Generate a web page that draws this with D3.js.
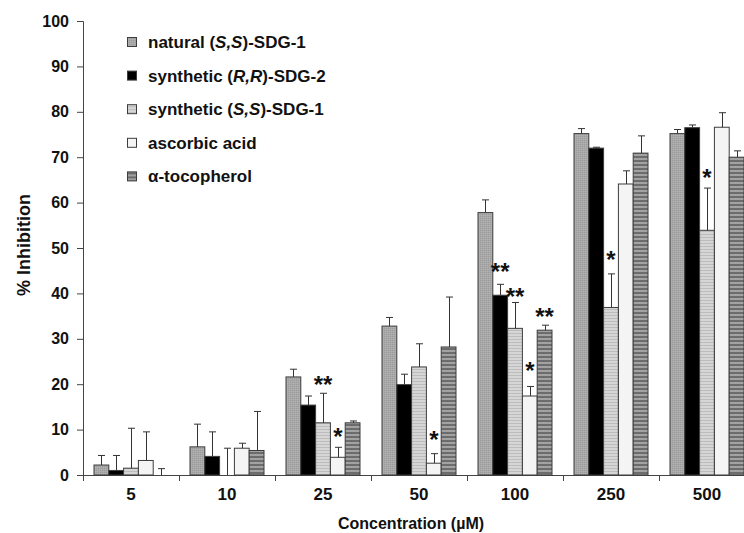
<!DOCTYPE html>
<html>
<head>
<meta charset="utf-8">
<script src="https://cdn.jsdelivr.net/npm/d3@7"></script>
<style>
  body { margin: 0; background: #fff; }
  text { font-family: "Liberation Sans", Arial, sans-serif; font-weight: bold; fill: #111; }
</style>
</head>
<body>
<div id="chart"></div>
<script>
// concentrations (µM)
var categories = ["5", "10", "25", "50", "100", "250", "500"];

// mean % inhibition per compound
var naturalSS   = [2.2, 6.2, 21.6, 32.8, 57.8, 75.2, 75.2];
var syntheticRR = [1.0, 4.1, 15.4, 19.9, 39.6, 72.0, 76.5];
var syntheticSS = [1.5, 0.0, 11.5, 23.8, 32.3, 36.9, 53.9];
var ascorbic    = [3.2, 5.9, 3.9, 2.6, 17.4, 64.1, 76.6];
var tocopherol  = [0.0, 5.4, 11.5, 28.2, 31.9, 70.9, 70.0];

// error bar (+SD)
var naturalSSErr   = [2.1, 5.0, 1.7, 1.9, 2.8, 1.1, 0.9];
var syntheticRRErr = [3.3, 5.4, 2.0, 2.3, 2.4, 0.2, 0.6];
var syntheticSSErr = [8.8, 5.9, 6.5, 5.1, 5.7, 7.4, 9.3];
var ascorbicErr    = [6.3, 1.1, 2.2, 2.1, 2.1, 2.9, 3.2];
var tocopherolErr  = [1.4, 8.6, 0.4, 11.0, 1.1, 3.8, 1.4];

var yTicks = [0, 10, 20, 30, 40, 50, 60, 70, 80, 90, 100];

// significance marks: concentration, series index, label, level (% units)
var starCats   = ["25", "25", "50", "100", "100", "100", "100", "250", "500"];
var starSeries = [2, 3, 3, 1, 2, 3, 4, 2, 2];
var starLabels = ["**", "*", "*", "**", "**", "*", "**", "*", "*"];
var starLevels = [20.9, 9.5, 8.8, 45.9, 40.2, 23.9, 35.9, 48.5, 66.5];

var series = [
  {name: ["natural (", "S,S", ")-SDG-1"], values: naturalSS, err: naturalSSErr, fill: "url(#p0)"},
  {name: ["synthetic (", "R,R", ")-SDG-2"], values: syntheticRR, err: syntheticRRErr, fill: "#000"},
  {name: ["synthetic (", "S,S", ")-SDG-1"], values: syntheticSS, err: syntheticSSErr, fill: "url(#p2)"},
  {name: ["ascorbic acid"], values: ascorbic, err: ascorbicErr, fill: "#f4f4f4"},
  {name: ["α-tocopherol"], values: tocopherol, err: tocopherolErr, fill: "url(#p4)"}
];

var W = 744, H = 533;
var mLeft = 83, mTop = 21, plotH = 454;

var svg = d3.select("#chart").append("svg")
    .attr("width", W)
    .attr("height", H);

// fill patterns
var defs = svg.append("defs");
var p0 = defs.append("pattern").attr("id", "p0").attr("width", 2).attr("height", 2)
    .attr("patternUnits", "userSpaceOnUse");
p0.append("rect").attr("width", 2).attr("height", 2).attr("fill", "#a8a8a8");
p0.append("rect").attr("width", 1).attr("height", 1).attr("fill", "#9c9c9c");
p0.append("rect").attr("x", 1).attr("y", 1).attr("width", 1).attr("height", 1).attr("fill", "#b2b2b2");

var p2 = defs.append("pattern").attr("id", "p2").attr("width", 4).attr("height", 3)
    .attr("patternUnits", "userSpaceOnUse");
p2.append("rect").attr("width", 4).attr("height", 3).attr("fill", "#d6d6d6");
p2.append("rect").attr("width", 4).attr("height", 1).attr("fill", "#bcbcbc");

var p4 = defs.append("pattern").attr("id", "p4").attr("width", 4).attr("height", 4)
    .attr("patternUnits", "userSpaceOnUse");
p4.append("rect").attr("width", 4).attr("height", 4).attr("fill", "#a2a2a2");
p4.append("rect").attr("width", 4).attr("height", 2).attr("fill", "#6c6c6c");

var x0 = d3.scaleBand().domain(categories).range([mLeft, mLeft + 96 * categories.length]);
var x1 = d3.scaleBand().domain(d3.range(series.length)).range([11, 85]);
var y = d3.scaleLinear().domain([0, 100]).range([mTop + plotH, mTop]);

// y axis
var yAxis = svg.append("g")
    .attr("transform", "translate(" + mLeft + ",0)")
    .call(d3.axisLeft(y).tickValues(yTicks).tickSize(6).tickPadding(8));
yAxis.selectAll("text").style("font-size", "16px").attr("fill", "#111");
yAxis.selectAll("line, path").attr("stroke", "#444");

// x axis
var xAxis = svg.append("g")
    .attr("transform", "translate(0," + y(0) + ")")
    .call(d3.axisBottom(x0).tickSize(0).tickPadding(13));
xAxis.select(".domain").attr("stroke", "#444");
xAxis.selectAll("text").style("font-size", "17px").attr("fill", "#111");
xAxis.selectAll(".sep").data(categories).enter().append("line")
    .attr("x1", function (d) { return x0(d) + 0.5; })
    .attr("x2", function (d) { return x0(d) + 0.5; })
    .attr("y1", 0).attr("y2", 6)
    .attr("stroke", "#444");

// bars
var groups = svg.append("g").selectAll("g")
  .data(series)
  .enter().append("g");

groups.selectAll("rect")
  .data(function (s, i) {
    return s.values.map(function (v, j) { return {i: i, cat: categories[j], v: v, fill: s.fill}; });
  })
  .enter().append("rect")
    .filter(function (d) { return d.v > 0; })
    .attr("x", function (d) { return x0(d.cat) + x1(d.i); })
    .attr("y", function (d) { return y(d.v); })
    .attr("width", x1.bandwidth())
    .attr("height", function (d) { return y(0) - y(d.v); })
    .attr("fill", function (d) { return d.fill; })
    .attr("stroke", "#3c3c3c")
    .attr("stroke-width", 1);

// error bars
var errs = [];
series.forEach(function (s, i) {
  s.values.forEach(function (v, j) {
    errs.push({i: i, cat: categories[j], v: v, e: s.err[j]});
  });
});
var eg = svg.append("g").attr("stroke", "#333").attr("stroke-width", 1);
errs.forEach(function (d) {
  var cx = Math.round(x0(d.cat) + x1(d.i) + x1.bandwidth() / 2) + 0.5;
  eg.append("line").attr("x1", cx).attr("x2", cx)
    .attr("y1", y(d.v)).attr("y2", y(d.v + d.e));
  eg.append("line").attr("x1", cx - 3.5).attr("x2", cx + 3.5)
    .attr("y1", y(d.v + d.e)).attr("y2", y(d.v + d.e));
});

// stars
svg.append("g").selectAll("text")
  .data(starLabels)
  .enter().append("text")
    .attr("x", function (d, k) { return x0(starCats[k]) + x1(starSeries[k]) + x1.bandwidth() / 2; })
    .attr("y", function (d, k) { return y(starLevels[k]) + 13; })
    .attr("text-anchor", "middle")
    .style("font-size", "24px")
    .text(function (d) { return d; });

// legend
var legend = svg.append("g").selectAll("g")
  .data(series)
  .enter().append("g")
    .attr("transform", function (d, i) { return "translate(127," + (42 + i * 33.6) + ")"; });
legend.append("rect")
    .attr("x", 0.5).attr("y", -4.5)
    .attr("width", 9).attr("height", 9)
    .attr("fill", function (d) { return d.fill; })
    .attr("stroke", "#3c3c3c");
legend.append("text")
    .attr("x", 21).attr("y", 6)
    .style("font-size", "17px")
    .each(function (d) {
      var t = d3.select(this);
      d.name.forEach(function (part, k) {
        t.append("tspan").text(part).style("font-style", k === 1 ? "italic" : "normal");
      });
    });

// axis titles
svg.append("text")
    .attr("x", 411).attr("y", 529)
    .attr("text-anchor", "middle")
    .style("font-size", "16px")
    .text("Concentration (µM)");

svg.append("text")
    .attr("transform", "translate(30,245) rotate(-90)")
    .attr("text-anchor", "middle")
    .style("font-size", "18px")
    .text("% Inhibition");
</script>
</body>
</html>
